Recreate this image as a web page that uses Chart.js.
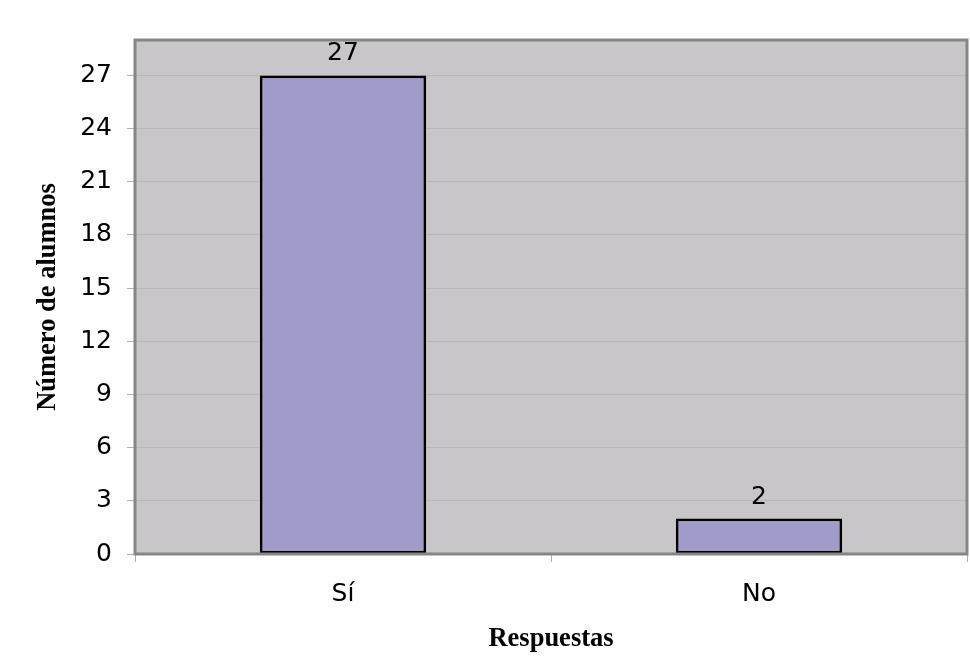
<!DOCTYPE html>
<html>
<head>
<meta charset="utf-8">
<script src="https://cdn.jsdelivr.net/npm/chart.js"></script>
<style>
  html, body { margin: 0; padding: 0; background: #fefefe; }
  #wrap { width: 970px; height: 672px; }
</style>
</head>
<body>
<div id="wrap"><canvas id="grafico" width="970" height="672"></canvas></div>
<script>
// datos
var categorias = ["Sí", "No"];
var alumnos = [27, 2];
var ejeMax = 29;
var ejePaso = 3;

// fondo gris del area y borde del recuadro
var fondoArea = {
    id: 'fondoArea',
    beforeDraw: function (chart) {
        var a = chart.chartArea, ctx = chart.ctx;
        ctx.save();
        ctx.fillStyle = '#c8c6c8';
        ctx.fillRect(a.left, a.top, a.right - a.left, a.bottom - a.top);
        ctx.restore();
    },
    afterDraw: function (chart) {
        var a = chart.chartArea, ctx = chart.ctx;
        ctx.save();
        ctx.strokeStyle = '#868686';
        ctx.lineWidth = 3;
        ctx.strokeRect(a.left, a.top, a.right - a.left, a.bottom - a.top);
        ctx.restore();
    }
};

// valores encima de cada barra
var etiquetas = {
    id: 'etiquetas',
    afterDatasetsDraw: function (chart) {
        var ctx = chart.ctx;
        var meta = chart.getDatasetMeta(0);
        ctx.save();
        ctx.font = '25px "DejaVu Sans"';
        ctx.fillStyle = '#000';
        ctx.textAlign = 'center';
        ctx.textBaseline = 'alphabetic';
        meta.data.forEach(function (barra, i) {
            ctx.fillText(String(alumnos[i]), barra.x, barra.y - 15);
        });
        ctx.restore();
    }
};

var ctx = document.getElementById("grafico").getContext("2d");
var myChart = new Chart(ctx, {
    type: 'bar',
    data: {
        labels: categorias,
        datasets: [{
            data: alumnos,
            backgroundColor: '#a19bc9',
            borderColor: '#000',
            borderWidth: 2.8,
            borderSkipped: false,
            barPercentage: 0.4,
            categoryPercentage: 1
        }]
    },
    options: {
        responsive: false,
        animation: false,
        layout: { padding: { top: 40, right: 3, bottom: 0, left: 0 } },
        plugins: { legend: { display: false }, tooltip: { enabled: false } },
        scales: {
            x: {
                offset: true,
                grid: { offset: true, drawOnChartArea: false, drawTicks: true, tickLength: 8, tickColor: '#b0b0b0' },
                border: { display: false },
                ticks: { color: '#000', font: { family: 'DejaVu Sans', size: 25 }, padding: 17 },
                title: {
                    display: true, text: 'Respuestas', color: '#000',
                    font: { family: 'Liberation Serif', size: 26.5, weight: 'bold' },
                    padding: { top: 0, bottom: 17 }
                },
                afterFit: function (scale) { scale.height = 118; }
            },
            y: {
                min: 0,
                max: ejeMax,
                grid: { color: '#bab8ba', tickLength: 8, tickColor: '#b0b0b0' },
                border: { display: false },
                ticks: { stepSize: ejePaso, color: '#000', font: { family: 'DejaVu Sans', size: 25 }, padding: 15 },
                afterBuildTicks: function (scale) {
                    scale.ticks = scale.ticks.filter(function (t) { return t.value % ejePaso === 0; });
                },
                title: {
                    display: true, text: 'Número de alumnos', color: '#000',
                    font: { family: 'Liberation Serif', size: 26.5, weight: 'bold' },
                    padding: { top: 32, bottom: 0 }
                },
                afterFit: function (scale) { scale.width = 135; }
            }
        }
    },
    plugins: [fondoArea, etiquetas]
});
</script>
</body>
</html>
